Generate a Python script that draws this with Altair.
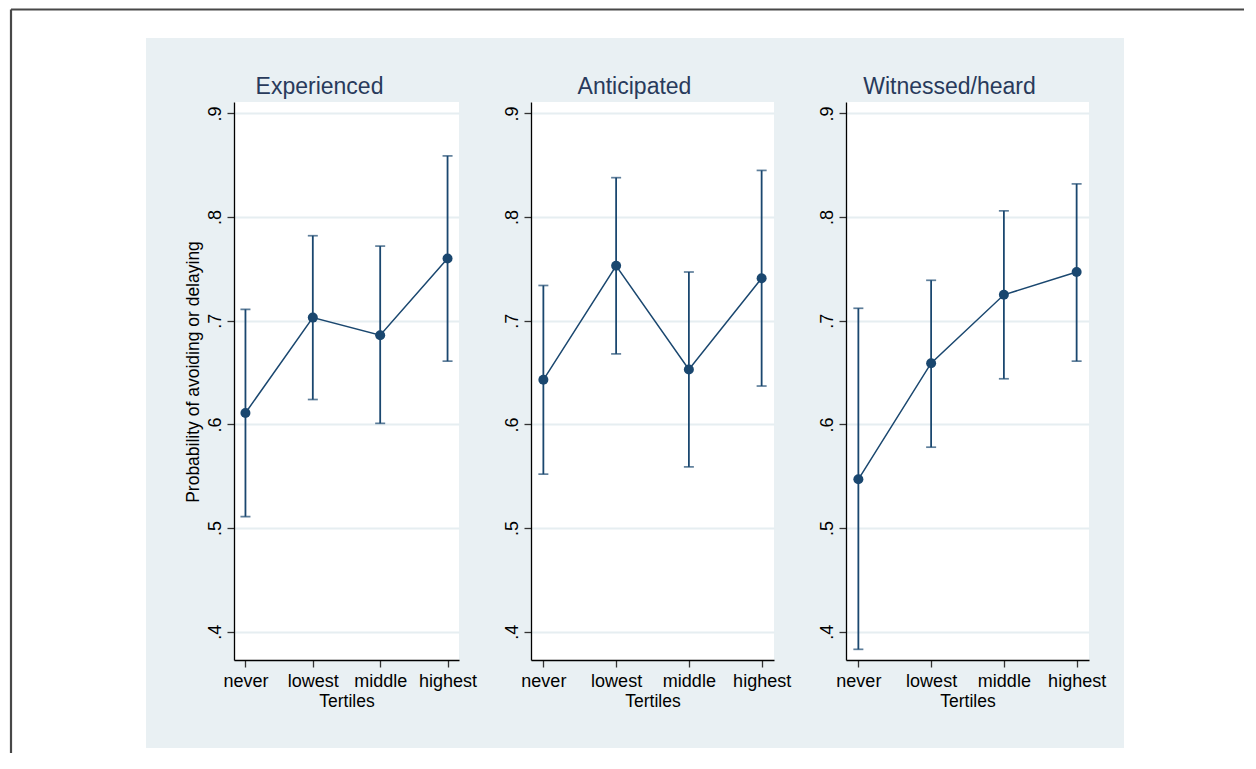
import altair as alt
import pandas as pd

categories = ["never", "lowest", "middle", "highest"]
panels = ["Experienced", "Anticipated", "Witnessed/heard"]

exp_est = [0.611, 0.703, 0.686, 0.760]
exp_lo = [0.511, 0.624, 0.601, 0.661]
exp_hi = [0.711, 0.782, 0.772, 0.859]

ant_est = [0.643, 0.753, 0.653, 0.741]
ant_lo = [0.552, 0.668, 0.559, 0.637]
ant_hi = [0.734, 0.838, 0.747, 0.845]

wit_est = [0.547, 0.659, 0.725, 0.747]
wit_lo = [0.383, 0.578, 0.644, 0.661]
wit_hi = [0.712, 0.739, 0.806, 0.832]

y_ticks = [0.4, 0.5, 0.6, 0.7, 0.8, 0.9]
y_domain = [0.3727, 0.911]

NAVY = "#1a476f"
BG = "#e9f0f3"
TITLE_COLOR = "#283a5b"
FONT = "Liberation Sans"
H = 558


def panel(name, est, lo, hi, width, ytitle, title_dx, deco=False):
    df = pd.DataFrame({"cat": categories, "est": est, "lo": lo, "hi": hi})
    xaxis = alt.Axis(title="Tertiles", labelAngle=0, grid=False,
                     labelBaseline="alphabetic", labelPadding=19,
                     titleY=46, titleBaseline="alphabetic")
    xs = alt.Scale(type="point", padding=0.17)
    yaxis_kw = dict(values=y_ticks,
                    labelExpr="substring(format(datum.value, '.1f'), 1)",
                    labelAngle=270, labelAlign="center", labelBaseline="alphabetic",
                    labelPadding=7, grid=True)
    if ytitle:
        yaxis = alt.Axis(title=ytitle, titleX=-36, titleY=269.5, titleAngle=270,
                         titleAlign="center", titleBaseline="alphabetic", **yaxis_kw)
    else:
        yaxis = alt.Axis(title=None, **yaxis_kw)
    ys = alt.Scale(domain=y_domain, nice=False, zero=False)

    def X():
        return alt.X("cat:N", sort=categories, scale=xs, axis=xaxis)

    def Y(f):
        return alt.Y(f + ":Q", scale=ys, axis=yaxis)

    base = alt.Chart(df)
    line = base.mark_line(color=NAVY, strokeWidth=1.5).encode(x=X(), y=Y("est"))
    rules = base.mark_rule(color=NAVY, strokeWidth=1.8).encode(
        x=X(), y=Y("lo"), y2="hi:Q")
    cap_lo = base.mark_tick(color=NAVY, thickness=1.7, size=10).encode(x=X(), y=Y("lo"))
    cap_hi = base.mark_tick(color=NAVY, thickness=1.7, size=10).encode(x=X(), y=Y("hi"))
    pts = base.mark_circle(color=NAVY, size=100, opacity=1).encode(x=X(), y=Y("est"))

    title = alt.Chart(alt.Data(values=[{"t": name}])).mark_text(
        font=FONT, fontSize=23, color=TITLE_COLOR, align="center",
        baseline="alphabetic").encode(
        text="t:N", x=alt.value(width / 2 + title_dx), y=alt.value(-8))

    layers = [line, rules, cap_lo, cap_hi, pts, title]
    if deco:
        one = alt.Data(values=[{"d": 0}])

        def wrect(x, x2, y, y2):
            return alt.Chart(one).mark_rect(color="white").encode(
                x=alt.value(x), x2=alt.value(x2), y=alt.value(y), y2=alt.value(y2))

        L, R, T, B = -226, 1012, -94, 653
        layers += [
            wrect(L, -88, T, B),
            wrect(L, R, T, -64),
            wrect(890, R, T, B),
            wrect(L, R, 646, B),
            alt.Chart(one).mark_rule(color="#484848", strokeWidth=2.2).encode(
                x=alt.value(-223), y=alt.value(-92.5), y2=alt.value(B - 2)),
            alt.Chart(one).mark_rule(color="#484848", strokeWidth=2.2).encode(
                x=alt.value(-223), x2=alt.value(R - 2), y=alt.value(-92.5)),
        ]

    return alt.layer(*layers).properties(width=width, height=H)


p1 = panel(panels[0], exp_est, exp_lo, exp_hi, 225,
           "Probability of avoiding or delaying", -27, deco=True)
p2 = panel(panels[1], ant_est, ant_lo, ant_hi, 243, None, -18)
p3 = panel(panels[2], wit_est, wit_lo, wit_hi, 243, None, -18)

chart = alt.hconcat(p1, p2, p3, spacing=72, bounds="flush").properties(
    background=BG, padding=0
).configure_view(fill="white", strokeWidth=0).configure_axis(
    domainColor="black", domainWidth=1.3, tickColor="#333333", tickWidth=1.3,
    tickSize=7, labelFont=FONT, labelFontSize=18, labelColor="black",
    titleFont=FONT, titleFontSize=17.5, titleFontWeight="normal", titleColor="black",
    gridColor="#e6eef1", gridWidth=1.8
)

chart.save("out.html", embed_options={"renderer": "svg", "actions": False})
